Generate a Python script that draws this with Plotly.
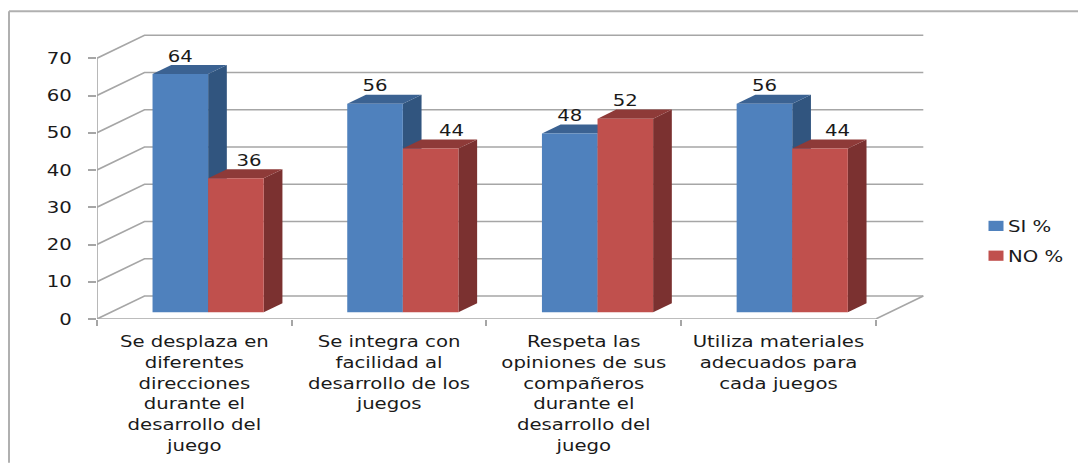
import plotly.graph_objects as go

categories = [
    "Se desplaza en<br>diferentes<br>direcciones<br>durante el<br>desarrollo del<br>juego",
    "Se integra con<br>facilidad al<br>desarrollo de los<br>juegos",
    "Respeta las<br>opiniones de sus<br>compañeros<br>durante el<br>desarrollo del<br>juego",
    "Utiliza materiales<br>adecuados para<br>cada juegos",
]
si_values = [64, 56, 48, 56]
no_values = [36, 44, 52, 44]
y_ticks = [0, 10, 20, 30, 40, 50, 60, 70]

# Layout in pixels
W, H = 1078, 463
L, R, T, B = 97, 924, 33.7, 319
PX_CAT = 194.7
PX_UNIT = 3.729
DX = 47.5 / PX_CAT
DY = 23 / PX_UNIT
D0, D1 = 0.29, 0.684
BW = 0.2855
LABEL_UP = 4.4
SI_LABEL_SHIFT = [0, 0, 0, 0]
NO_LABEL_SHIFT = [13 / PX_CAT, 21 / PX_CAT, 0, 17.5 / PX_CAT]

GRID = "#a6a6a6"
BLUE, BLUE_SIDE, BLUE_TOP = "#4f81bd", "#31557f", "#3b6292"
RED, RED_SIDE, RED_TOP = "#c0504d", "#7b3130", "#8e3a38"
FONT = "DejaVu Sans"
FS = 16
TXT = "#1a1a1a"


def P(x, d, v):
    return x + d * DX, v + d * DY


fig = go.Figure()


def add_line(xs, ys, z=0):
    fig.add_trace(go.Scatter(x=xs, y=ys, mode="lines", showlegend=False, hoverinfo="skip",
                             line=dict(color=GRID, width=1.6), cliponaxis=False, zorder=z))


# Walls: back gridlines, left-wall diagonals, floor edges
n = len(categories)
for t in y_ticks:
    x0, y0 = P(0, 0, t)
    x1, y1 = P(0, 1, t)
    x2, y2 = P(n, 1, t)
    add_line([x0, x1, x2], [y0, y1, y2])
add_line([0, 0], [0, max(y_ticks)])
add_line([0, n], [0, 0])
xa, ya = P(n, 0, 0)
xb, yb = P(n, 1, 0)
add_line([xa, xb], [ya, yb])


def poly(pts, color, z):
    fig.add_trace(go.Scatter(x=[p[0] for p in pts] + [pts[0][0]], y=[p[1] for p in pts] + [pts[0][1]],
                             mode="lines", fill="toself", fillcolor=color, line=dict(width=0),
                             showlegend=False, hoverinfo="skip", cliponaxis=False, zorder=z))


def series(name, values, start, color, side, top, z, group):
    centers = []
    for i, v in enumerate(values):
        left = i + 0.5 + start
        right = left + BW
        poly([P(right, D0, 0), P(right, D1, 0), P(right, D1, v), P(right, D0, v)], side, z)
        poly([P(left, D0, v), P(right, D0, v), P(right, D1, v), P(left, D1, v)], top, z)
        centers.append(P(left + BW / 2, D0, 0)[0])
    fig.add_trace(go.Bar(name=name, x=centers, y=values, width=BW, base=D0 * DY,
                         marker=dict(color=color, line=dict(width=0)), legendgroup=group,
                         hoverinfo="skip", zorder=z + 1))
    return centers


si_centers = series("SI %", si_values, -BW, BLUE, BLUE_SIDE, BLUE_TOP, 1, "si")
no_centers = series("NO %", no_values, 0, RED, RED_SIDE, RED_TOP, 3, "no")

fig.add_trace(go.Scatter(
    x=[c + s for c, s in zip(si_centers + no_centers, SI_LABEL_SHIFT + NO_LABEL_SHIFT)],
    y=[v + D0 * DY + LABEL_UP for v in si_values + no_values],
    text=[str(v) for v in si_values + no_values],
    mode="text", textposition="middle center", textfont=dict(family=FONT, size=FS, color=TXT),
    showlegend=False, hoverinfo="skip", cliponaxis=False, zorder=6))

pw, ph = R - L, B - T
fig.update_layout(
    width=W, height=H, autosize=False,
    margin=dict(l=L, r=W - R, t=T, b=H - B, pad=0),
    paper_bgcolor="white", plot_bgcolor="rgba(0,0,0,0)",
    barmode="overlay",
    font=dict(family=FONT, size=FS, color=TXT),
    xaxis=dict(range=[0, pw / PX_CAT], tickmode="array", tickvals=[i + 0.5 for i in range(n)],
               ticktext=categories, ticks="", showgrid=False, zeroline=False, showline=False,
               tickangle=0, ticklabelstandoff=11, automargin=False,
               minor=dict(tickmode="array", tickvals=list(range(n + 1)), ticks="outside", ticklen=6,
                          tickwidth=1.6, tickcolor=GRID, showgrid=False),
               tickfont=dict(family=FONT, size=FS, color=TXT)),
    yaxis=dict(range=[0, ph / PX_UNIT], tickmode="array", tickvals=y_ticks, ticks="outside", ticklen=8,
               tickwidth=1.6, tickcolor=GRID, showgrid=False, zeroline=False, showline=False,
               ticklabelstandoff=13, automargin=False, tickfont=dict(family=FONT, size=FS, color=TXT)),
    legend=dict(xref="container", yref="container", x=976 / W, y=1 - 209 / H, xanchor="left", yanchor="top",
                bgcolor="rgba(0,0,0,0)", tracegroupgap=6, traceorder="grouped",
                font=dict(family=FONT, size=FS, color=TXT)),
    shapes=[
        dict(type="line", xref="paper", yref="paper", x0=(9 - L) / pw, x1=(W - L) / pw,
             y0=(B - 11) / ph, y1=(B - 11) / ph, line=dict(color="#b0b0b0", width=2)),
        dict(type="line", xref="paper", yref="paper", x0=(9 - L) / pw, x1=(9 - L) / pw,
             y0=(B - 11) / ph, y1=(B - H) / ph, line=dict(color="#b0b0b0", width=2)),
    ],
)

# The reference's text is horizontally stretched; widen the real text nodes about their anchors.
STRETCH = """
document.body.style.margin='0';document.body.style.overflow='hidden';
var sx=1.23;
document.querySelectorAll('.xtick text,.ytick text,.legendtext,.textpoint text').forEach(function(t){
  var b=t.getBBox(), a=t.getAttribute('text-anchor')||t.style.textAnchor||'start';
  var o=a==='middle'?b.x+b.width/2:(a==='end'?b.x+b.width:b.x);
  var old=t.getAttribute('transform')||'';
  var pre=t.classList.contains('legendtext')?'translate(-8,0) ':'';
  t.setAttribute('transform',pre+old+' translate('+o+',0) scale('+sx+',1) translate('+(-o)+',0)');
});
document.querySelectorAll('.legend .legendpoints path').forEach(function(p){
  var old=p.getAttribute('transform')||'';
  p.setAttribute('transform',old+' scale(1.25,0.85)');
});
"""
fig.write_html("out.html", config={"displayModeBar": False}, post_script=STRETCH)
